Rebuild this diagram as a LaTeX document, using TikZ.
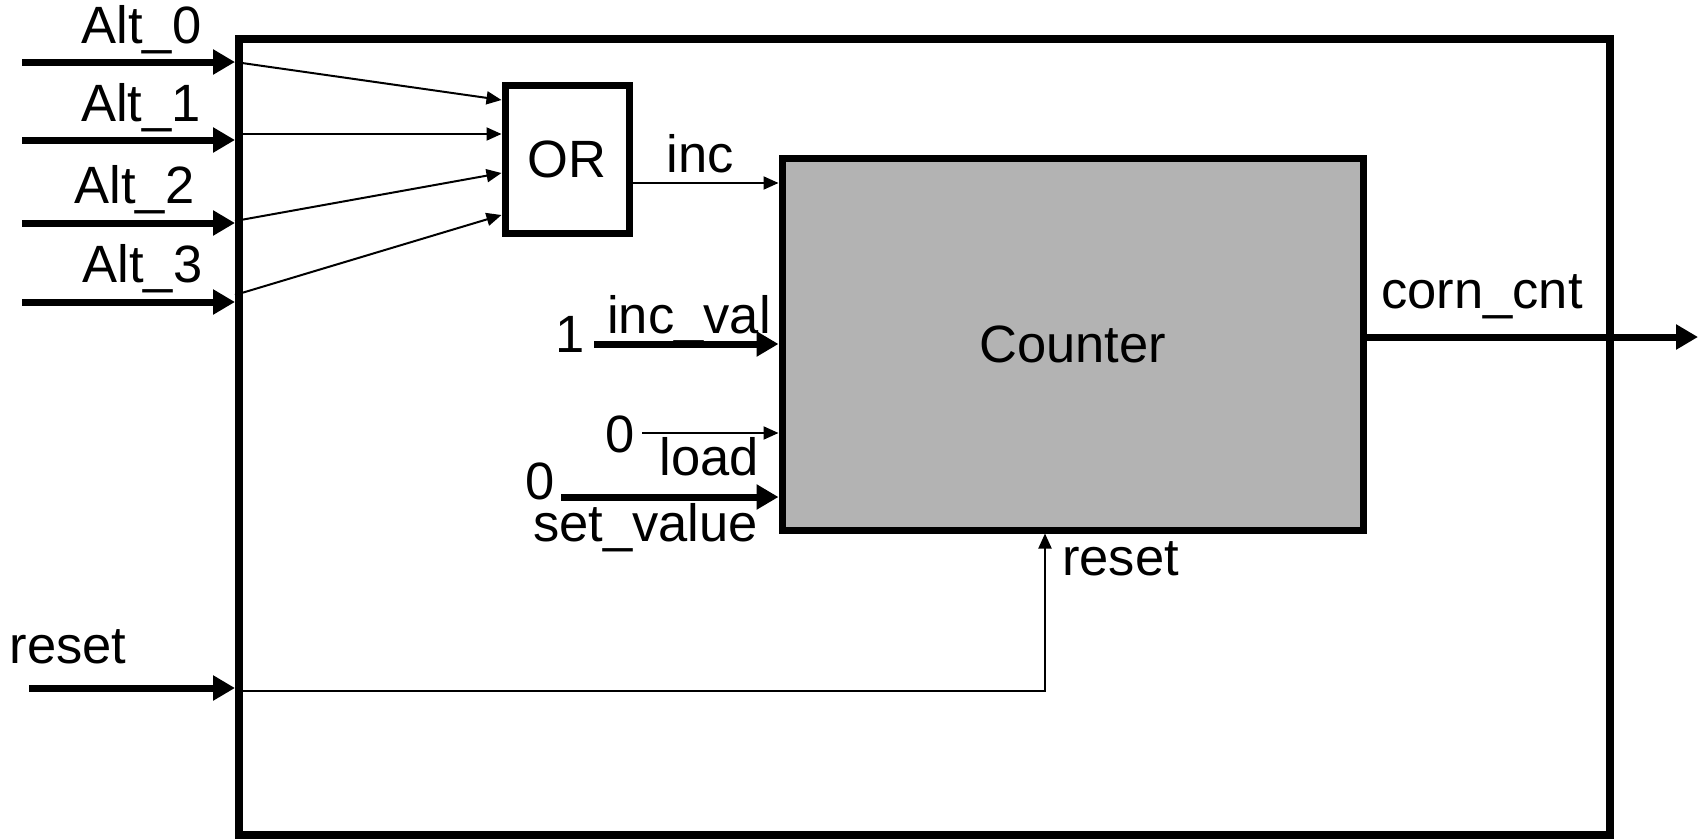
\documentclass[tikz,border=0pt]{standalone}
\usepackage{fontspec}
\setmainfont{Liberation Sans}
\usetikzlibrary{arrows.meta}
\definecolor{cntgray}{RGB}{179,179,179}
\begin{document}
\begin{tikzpicture}[x=1pt,y=-1pt,
  lbl/.style={font=\fontsize{52.5}{60}\selectfont, inner sep=0pt, anchor=base},
  blockbox/.style={draw, line width=7pt, inner sep=0pt, font=\fontsize{52.5}{60}\selectfont},
  busarrow/.style={line width=7pt, -{Triangle[length=22pt,width=24pt]}},
  sigarrow/.style={line width=2pt, -{Triangle[length=15pt,width=13pt]}},
]
\useasboundingbox (0,0) rectangle (1704,838);

% enclosing module, OR gate and counter
\node[blockbox, line width=8pt, minimum width=1371pt, minimum height=796pt] (sys) at (924.5,437) {};
\node[blockbox, minimum width=124pt, minimum height=148pt] (or) at (567,159) {OR};
\node[blockbox, fill=cntgray, minimum width=581pt, minimum height=372pt] (cnt) at (1072.5,344) {Counter};

% port positions
\coordinate (a0) at (22,62);
\coordinate (a1) at (22,140);
\coordinate (a2) at (22,223);
\coordinate (a3) at (22,302);
\coordinate (s0) at (0,62);
\coordinate (s1) at (0,134);
\coordinate (s2) at (0,221);
\coordinate (s3) at (0,295);
\coordinate (o0) at (0,100);
\coordinate (o1) at (0,134);
\coordinate (o2) at (0,173);
\coordinate (o3) at (0,215);
\coordinate (pinc) at (0,183);
\coordinate (iv) at (594,344);
\coordinate (ld) at (642,433);
\coordinate (sv) at (561,497);
\coordinate (outend) at (1698,337);
\coordinate (rst) at (29,688);
\coordinate (rturn) at (1045,691);

% module inputs
\draw[busarrow] (a0) -- (a0 -| sys.west);
\draw[busarrow] (a1) -- (a1 -| sys.west);
\draw[busarrow] (a2) -- (a2 -| sys.west);
\draw[busarrow] (a3) -- (a3 -| sys.west);
\draw[busarrow] (rst) -- (rst -| sys.west);

% OR gate inputs
\draw[sigarrow] (s0 -| sys.west) -- (o0 -| or.west);
\draw[sigarrow] (s1 -| sys.west) -- (o1 -| or.west);
\draw[sigarrow] (s2 -| sys.west) -- (o2 -| or.west);
\draw[sigarrow] (s3 -| sys.west) -- (o3 -| or.west);

% counter inputs
\draw[sigarrow] (pinc -| or.east) -- (pinc -| cnt.west);
\draw[busarrow] (iv) -- (iv -| cnt.west);
\draw[sigarrow] (ld) -- (ld -| cnt.west);
\draw[busarrow] (sv) -- (sv -| cnt.west);
\draw[sigarrow] (rturn -| sys.west) -- (rturn) -- (rturn |- cnt.south);

% counter output
\draw[busarrow] (outend -| cnt.east) -- (outend);

% labels
\node[lbl] (lalt0) at (141.5,43) {Alt\_0};
\node[lbl] (lalt1) at (141,121) {Alt\_1};
\node[lbl] (lalt2) at (134.5,203) {Alt\_2};
\node[lbl] (lalt3) at (142.5,282) {Alt\_3};
\node[lbl] (lrst) at (68,663) {reset};
\node[lbl] (linc) at (700,172) {inc};
\node[lbl] (lincval) at (689,333) {inc\_val};
\node[lbl] (lone) at (570,352) {1};
\node[lbl] (lzload) at (620,452) {0};
\node[lbl] (lload) at (709,475) {load};
\node[lbl] (lzset) at (540,499) {0};
\node[lbl] (lset) at (645.5,541) {set\_value};
\node[lbl] (lout) at (1482,308) {corn\_cnt};
\node[lbl] (lcrst) at (1120.5,575) {reset};
\end{tikzpicture}
\end{document}
